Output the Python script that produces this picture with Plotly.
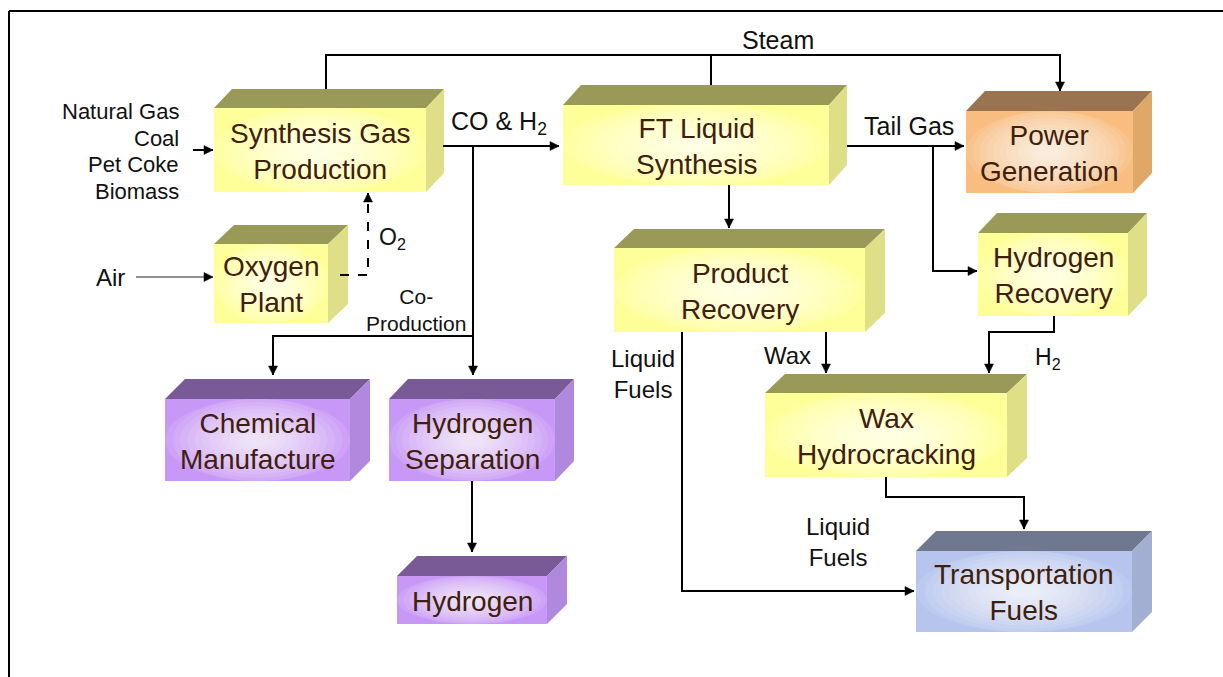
import plotly.graph_objects as go

W, H = 1223, 677

# ---- content -------------------------------------------------------------
box_labels = ["Synthesis Gas<br>Production", "Oxygen<br>Plant", "FT Liquid<br>Synthesis",
              "Power<br>Generation", "Product<br>Recovery", "Hydrogen<br>Recovery",
              "Chemical<br>Manufacture", "Hydrogen<br>Separation", "Hydrogen",
              "Wax<br>Hydrocracking", "Transportation<br>Fuels"]
box_kinds = ["process", "process", "process", "power", "process", "process",
             "product", "product", "product", "process", "fuel"]
feed_labels = ["Natural Gas", "Coal", "Pet Coke", "Biomass"]
stream_labels = ["Steam", "Air", "O<sub>2</sub>", "CO & H<sub>2</sub>", "Co-<br>Production",
                 "Tail Gas", "Liquid<br>Fuels", "Wax", "H<sub>2</sub>", "Liquid<br>Fuels"]

# ---- geometry (pixels) ---------------------------------------------------
box_geom = [  # front face x0, y0, x1, y1, depth dx, dy
    (214, 108, 426, 192, 18, 19),
    (214, 244, 328, 323, 20, 19),
    (563, 105, 829, 185, 18, 20),
    (966, 111, 1133, 193, 19, 20),
    (614, 248, 865, 332, 20, 19),
    (978, 233, 1128, 316, 19, 20),
    (165, 399, 350, 481, 20, 20),
    (389, 399, 555, 481, 19, 20),
    (397, 576, 547, 624, 20, 20),
    (765, 393, 1007, 477, 20, 19),
    (916, 551, 1132, 632, 20, 20),
]
box_font = [28, 28, 28, 28, 28, 28, 28, 28, 28, 28, 28]
palette = {
    "process": dict(front="#ffff99", top="#9a9a58", side="#dfdf88"),
    "power":   dict(front="#f9bd80", top="#9a7450", side="#dfa868"),
    "product": dict(front="#c898f6", top="#7a5a96", side="#b088de"),
    "fuel":    dict(front="#b6c4ee", top="#707890", side="#a2aed2"),
}

stream_pos = [  # x, y, xanchor, size
    (778, 40, "center", 25),
    (110, 277, "center", 24),
    (377, 238, "left", 23),
    (449, 123, "left", 25),
    (416, 310, "center", 21),
    (909, 126, "center", 25),
    (643, 374, "center", 24),
    (787, 355, "center", 24),
    (1033, 358, "left", 23),
    (838, 542, "center", 24),
]
feed_pos = (181, [111, 138, 164, 191])

connectors = [  # polyline points, arrow at end, dash, width
    ([(326, 89), (326, 55), (1060, 55), (1060, 91)], True, "solid", 2),
    ([(711, 85), (711, 55)], False, "solid", 2),
    ([(193, 150), (213, 150)], True, "solid", 2),
    ([(136, 277), (213, 277)], True, "solid", 1.2),
    ([(340, 275), (368, 275), (368, 193)], True, "dash", 2),
    ([(443, 146), (559, 146)], True, "solid", 2),
    ([(473, 146), (473, 375)], True, "solid", 2),
    ([(473, 336), (273, 336), (273, 375)], True, "solid", 2),
    ([(472, 481), (472, 552)], True, "solid", 2),
    ([(729, 185), (729, 228)], True, "solid", 2),
    ([(847, 146), (964, 146)], True, "solid", 2),
    ([(933, 146), (933, 271), (977, 271)], True, "solid", 2),
    ([(826, 332), (826, 373)], True, "solid", 2),
    ([(1054, 316), (1054, 332), (989, 332), (989, 373)], True, "solid", 2),
    ([(682, 332), (682, 591), (914, 591)], True, "solid", 2),
    ([(886, 477), (886, 497), (1024, 497), (1024, 529)], True, "solid", 2),
]

shapes = []
annotations = []
FONT = "Liberation Sans, Arial, sans-serif"


def poly(points, fill, line_color=None, width=0):
    d = "M " + " L ".join(f"{x},{y}" for x, y in points) + " Z"
    return dict(type="path", path=d, xref="x", yref="y", fillcolor=fill,
                line=dict(color=line_color or fill, width=width), layer="above")


# border
shapes.append(dict(type="line", xref="x", yref="y", x0=9, y0=11, x1=W, y1=11,
                   line=dict(color="black", width=2)))
shapes.append(dict(type="line", xref="x", yref="y", x0=9, y0=11, x1=9, y1=H,
                   line=dict(color="black", width=2)))

# boxes
glow = [1.0, 0.92, 0.84, 0.76, 0.68, 0.6, 0.52, 0.45, 0.38, 0.31, 0.25, 0.19, 0.13]
for label, kind, fs, (x0, y0, x1, y1, dx, dy) in zip(box_labels, box_kinds, box_font, box_geom):
    c = palette[kind]
    shapes.append(poly([(x0, y0), (x0 + dx, y0 - dy), (x1 + dx, y0 - dy), (x1, y0)], c["top"]))
    shapes.append(poly([(x1, y0), (x1 + dx, y0 - dy), (x1 + dx, y1 - dy), (x1, y1)], c["side"]))
    shapes.append(dict(type="rect", xref="x", yref="y", x0=x0, y0=y0, x1=x1, y1=y1,
                       fillcolor=c["front"], line=dict(width=0), layer="above"))
    cx, cy = (x0 + x1) / 2, (y0 + y1) / 2
    hw, hh = (x1 - x0) / 2, (y1 - y0) / 2
    for f in glow:
        shapes.append(dict(type="circle", xref="x", yref="y",
                           x0=cx - hw * f, x1=cx + hw * f,
                           y0=cy - hh * min(1.0, f * 1.1), y1=cy + hh * min(1.0, f * 1.1),
                           fillcolor="white", opacity=0.1, line=dict(width=0), layer="above"))
    annotations.append(dict(x=cx, y=cy + 1, xref="x", yref="y", text=label, showarrow=False,
                            xanchor="center", yanchor="middle", align="center",
                            font=dict(family=FONT, size=fs, color="#3f200c")))

# connectors
for pts, arrow, dash, width in connectors:
    d = "M " + " L ".join(f"{x},{y}" for x, y in pts)
    color = "#222222" if width < 2 else "black"
    shapes.append(dict(type="path", path=d, xref="x", yref="y", fillcolor="rgba(0,0,0,0)",
                       line=dict(color=color, width=width, dash=dash), layer="above"))
    if arrow:
        (px, py), (tx, ty) = pts[-2], pts[-1]
        L, hwid = 9, 4.5
        vx, vy = tx - px, ty - py
        n = (vx ** 2 + vy ** 2) ** 0.5
        ux, uy = vx / n, vy / n
        bx, by = tx - ux * L, ty - uy * L
        tri = [(tx, ty), (bx - uy * hwid, by + ux * hwid), (bx + uy * hwid, by - ux * hwid)]
        shapes.append(poly(tri, "black", "black", 0.5))

# stream labels
for text, (x, y, xa, size) in zip(stream_labels, stream_pos):
    annotations.append(dict(x=x, y=y, xref="x", yref="y", text=text, showarrow=False,
                            xanchor=xa, yanchor="middle", align="center",
                            font=dict(family=FONT, size=size, color="#111111")))

fx, fys = feed_pos
for text, y in zip(feed_labels, fys):
    annotations.append(dict(x=fx, y=y, xref="x", yref="y", text=text, showarrow=False,
                            xanchor="right", yanchor="middle", align="right",
                            font=dict(family=FONT, size=22, color="#111111")))

fig = go.Figure()
fig.update_layout(
    width=W, height=H, autosize=False,
    margin=dict(l=0, r=0, t=0, b=0),
    paper_bgcolor="white", plot_bgcolor="white",
    xaxis=dict(range=[0, W], visible=False, fixedrange=True),
    yaxis=dict(range=[H, 0], visible=False, fixedrange=True),
    shapes=shapes, annotations=annotations, showlegend=False,
)
fig.write_html("out.html", config={"displayModeBar": False},
               post_script="document.body.style.margin='0';document.body.style.overflow='hidden';")
